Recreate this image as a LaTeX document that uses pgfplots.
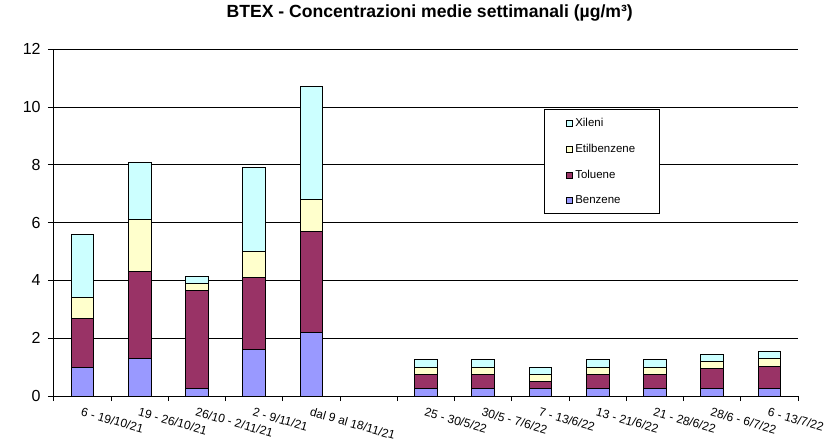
\documentclass[border=0pt]{standalone}
\usepackage{pgfplots}
\pgfplotsset{compat=1.18}
\usepackage{fontspec}
\setmainfont{Liberation Sans}
\definecolor{benz}{HTML}{9999FF}
\definecolor{tolu}{HTML}{993366}
\definecolor{etil}{HTML}{FFFFCC}
\definecolor{xile}{HTML}{CCFFFF}
\begin{document}
\begin{tikzpicture}
\begin{axis}[
  at={(0,0)}, anchor=south west,
  scale only axis,
  width=558pt, height=260pt,
  ybar stacked,
  bar width=17pt,
  xmin=-0.5, xmax=12.5,
  ymin=0, ymax=12,
  ytick={0,2,...,12},
  xtick={0,1,2,3,4,5,6,7,8,9,10,11,12},
  xticklabels={6 - 19/10/21,19 - 26/10/21,26/10 - 2/11/21,2 - 9/11/21,dal 9 al 18/11/21,,25 - 30/5/22,30/5 - 7/6/22,7 - 13/6/22,13 - 21/6/22,21 - 28/6/22,28/6 - 6/7/22,6 - 13/7/22},
  minor xtick={-0.5,0.5,...,12.5},
  every major x tick/.append style={draw=none},
  axis lines*=left,
  axis line style={-, black, line width=0.75pt},
  tick align=outside,
  major tick length=4.5pt,
  minor tick length=3.75pt,
  tick style={black, line width=0.75pt},
  ymajorgrids,
  major grid style={black, line width=0.75pt},
  /pgf/number format/assume math mode=true,
  yticklabel style={font=\fontsize{12}{14}\selectfont, xshift=-2pt},
  xticklabel style={font=\fontsize{9}{10}\selectfont, rotate=-16, anchor=north west, inner sep=1pt, yshift=-2.5pt},
  title={\textbf{BTEX - Concentrazioni medie settimanali (µg/m³)}},
  title style={font=\fontsize{13.2}{15}\selectfont, at={(axis description cs:0.505,1)}, anchor=base, yshift=18pt},
  reverse legend,
  legend cell align=left,
  legend style={at={(axis description cs:0.6586,0.827)}, anchor=north west,
    draw=black, line width=0.75pt, font=\fontsize{8.6}{9.5}\selectfont,
    inner xsep=16pt, inner ysep=4.5pt, row sep=7.5pt,
    nodes={inner sep=2pt}},
  legend image code/.code={\draw[#1, line width=0.5pt] (0pt,-2.3pt) rectangle (4.6pt,2.3pt);},
  every axis plot/.append style={draw=black, line width=0.75pt},
]
\addplot[fill=benz] coordinates {(0,1.0) (1,1.3) (2,0.27) (3,1.6) (4,2.2) (6,0.25) (7,0.25) (8,0.25) (9,0.25) (10,0.25) (11,0.25) (12,0.25)};
\addplot[fill=tolu] coordinates {(0,1.7) (1,3.0) (2,3.37) (3,2.5) (4,3.5) (6,0.5) (7,0.5) (8,0.25) (9,0.5) (10,0.5) (11,0.7) (12,0.77)};
\addplot[fill=etil] coordinates {(0,0.7) (1,1.8) (2,0.25) (3,0.9) (4,1.1) (6,0.25) (7,0.25) (8,0.25) (9,0.25) (10,0.25) (11,0.25) (12,0.28)};
\addplot[fill=xile] coordinates {(0,2.2) (1,2.0) (2,0.26) (3,2.9) (4,3.9) (6,0.25) (7,0.25) (8,0.25) (9,0.25) (10,0.25) (11,0.25) (12,0.25)};
\legend{Benzene,Toluene,Etilbenzene,Xileni}
\end{axis}
\path[use as bounding box] (-40.5pt,-35.25pt) rectangle (585pt,297pt);
\end{tikzpicture}
\end{document}
